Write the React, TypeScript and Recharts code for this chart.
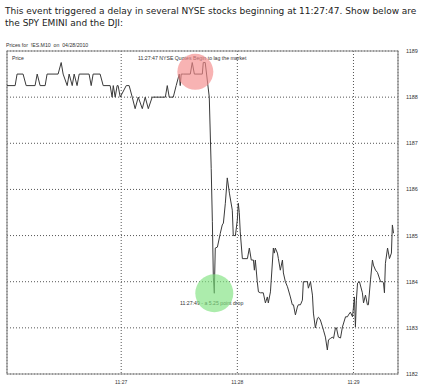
import { LineChart, Line, XAxis, YAxis, CartesianGrid, ReferenceArea, ReferenceDot } from 'recharts';

// seconds after 11:26:00
const times = [
  1.0, 5.2, 6.2, 9.3, 10.9, 15.5, 16.6, 18.1, 20.7, 21.7, 27.4, 29.0, 30.0, 32.1, 33.1, 34.7, 35.7, 37.2, 38.3,
  43.4, 44.5, 45.5, 49.1, 50.7, 54.3, 55.3, 55.9, 56.9, 57.9, 58.4, 59.5, 62.6, 64.1, 65.7, 67.2, 68.8, 70.9,
  72.4, 74.0, 76.0, 82.8, 83.8, 84.8, 86.9, 88.4, 90.0, 90.5, 91.0, 92.1, 95.7, 96.7, 97.8, 101.9, 102.4, 103.4,
  105.5, 106.5, 107.1, 107.6, 108.1, 108.6, 109.7, 111.2, 112.2, 112.8, 113.8, 114.8, 115.9, 117.4, 117.9,
  119.0, 120.0, 120.5, 121.0, 121.5, 122.6, 125.2, 126.2, 127.2, 128.3, 128.8, 129.3, 130.3, 130.9, 131.9,
  133.4, 134.5, 135.5, 136.0, 137.1, 138.6, 139.1, 139.6, 140.7, 141.2, 142.2, 143.3, 143.8, 144.8, 145.9,
  147.4, 148.4, 149.0, 150.0, 151.0, 151.5, 152.6, 153.6, 154.1, 156.2, 156.7, 157.8, 158.8, 159.3, 160.3,
  161.4, 161.9, 162.9, 164.0, 164.5, 165.5, 166.5, 167.1, 168.1, 169.1, 169.7, 170.7, 171.2, 172.2, 173.3,
  174.3, 175.9, 176.9, 177.4, 178.4, 179.5, 180.0, 180.5, 181.0, 181.5, 182.1, 183.1, 184.6, 185.2, 186.2,
  187.2, 187.7, 188.8, 189.8, 190.3, 191.4, 192.4, 194.0, 195.0, 195.5, 196.0, 196.5, 197.6, 198.6, 199.6,
  200.1, 200.7,
];

const prices = [
  1188.25, 1188.25, 1188.5, 1188.5, 1188.25, 1188.25, 1188.5, 1188.25, 1188.25, 1188.5, 1188.5, 1188.75, 1188.5,
  1188.25, 1188.5, 1188.25, 1188.5, 1188.25, 1188.5, 1188.5, 1188.25, 1188.5, 1188.5, 1188.25, 1188.25, 1188,
  1188.25, 1188, 1188.25, 1188.25, 1188, 1188.25, 1188.25, 1188, 1187.75, 1188, 1187.75, 1188, 1187.75, 1188,
  1188, 1188.25, 1188, 1188, 1188.25, 1188.5, 1188.25, 1188.5, 1188.5, 1188.5, 1188.75, 1188.5, 1188.5,
  1188.75, 1188.75, 1188, 1186.45, 1185.3, 1184.1, 1183.75, 1184.73, 1184.75, 1185.05, 1185.23, 1185.27,
  1185.7, 1186.25, 1185.92, 1185.55, 1185.0, 1185.0, 1185.34, 1185.7, 1185.5, 1185.08, 1184.5, 1184.5,
  1184.73, 1184.47, 1184.47, 1184.25, 1184.47, 1184.0, 1183.78, 1183.76, 1183.76, 1183.54, 1183.67, 1183.54,
  1183.78, 1184.73, 1184.62, 1184.73, 1184.62, 1184.5, 1184.25, 1184.47, 1184.19, 1184.0, 1183.89, 1183.67,
  1183.5, 1183.5, 1183.28, 1183.45, 1183.5, 1183.5, 1183.6, 1184.0, 1184.0, 1183.86, 1184.0, 1183.71,
  1183.32, 1183.0, 1183.21, 1183.23, 1183.17, 1183.02, 1182.95, 1182.8, 1182.52, 1182.74, 1182.77, 1182.8,
  1182.77, 1183.0, 1183.0, 1182.8, 1182.78, 1183.02, 1183.24, 1183.24, 1183.28, 1183.34, 1183.24, 1183.45,
  1183.67, 1183.02, 1183.6, 1183.97, 1184.0, 1183.76, 1183.54, 1183.71, 1183.5, 1183.5, 1184.04, 1184.47,
  1184.36, 1184.25, 1184.2, 1184.0, 1184.0, 1183.98, 1183.76, 1184.4, 1184.73, 1184.5, 1184.62, 1185.23,
  1185.05, 1184.75,
];

const yTicks = [1182, 1183, 1184, 1185, 1186, 1187, 1188, 1189];
const xTicks = [60, 120, 180];
const xTickLabels = ['11:27', '11:28', '11:29'];

const data = times.map((t, i) => ({ t, p: prices[i] }));

const small = { fontFamily: 'Arial, "Liberation Sans", sans-serif', fontSize: 5.2, color: '#333', position: 'absolute' as const, whiteSpace: 'nowrap' as const };

export default function App() {
  return (
    <div style={{ position: 'absolute', left: 0, top: 0, width: 446, height: 384, background: '#fff', overflow: 'hidden' }}>
      <div style={{ position: 'absolute', left: 5, top: 5, fontFamily: '"DejaVu Sans", Verdana, sans-serif', fontSize: 9, lineHeight: '12px', color: '#222', whiteSpace: 'nowrap' }}>
        This event triggered a delay in several NYSE stocks beginning at 11:27:47. Show below are<br />
        the SPY EMINI and the DJI:
      </div>
      <div style={{ ...small, left: 6, top: 42 }}>Prices for&nbsp; !ES.M10 &nbsp;on &nbsp;04/28/2010</div>
      <div style={{ ...small, left: 12, top: 55 }}>Price</div>
      <div style={{ ...small, left: 138, top: 55 }}>11:27:47 NYSE Quotes Begin to lag the market</div>
      <div style={{ ...small, left: 180, top: 300 }}>11:27:49 - a 5.25 point drop</div>
      <div style={{ position: 'absolute', left: 0, top: 0 }}>
        <LineChart width={446} height={384} data={data} margin={{ top: 51, left: 7, right: 8, bottom: 0 }}>
          <CartesianGrid stroke="#555" strokeDasharray="1 2" />
          <XAxis
            dataKey="t"
            type="number"
            domain={[1, 203]}
            ticks={xTicks}
            tickFormatter={(v) => xTickLabels[xTicks.indexOf(v)]}
            axisLine={false}
            tickLine={false}
            height={10}
            tick={{ fontSize: 5, fill: '#333', fontFamily: 'Arial' }}
            tickMargin={0}
            allowDataOverflow
          />
          <YAxis
            orientation="right"
            domain={[1182, 1189]}
            ticks={yTicks}
            axisLine={false}
            tickLine={false}
            width={40}
            tick={{ fontSize: 5.5, fill: '#333', fontFamily: 'Arial' }}
            allowDataOverflow
          />
          <ReferenceArea x1={1} x2={203} y1={1182} y2={1189} fill="none" stroke="#8a8a8a" strokeWidth={1.2} />
          <ReferenceDot x={98.3} y={1188.55} r={18} fill="#f58a8a" fillOpacity={0.65} stroke="none" />
          <ReferenceDot x={108.1} y={1183.75} r={19} fill="#7fe27f" fillOpacity={0.65} stroke="none" />
          <Line type="linear" dataKey="p" stroke="#3a3a3a" strokeWidth={1} dot={false} isAnimationActive={false} />
        </LineChart>
      </div>
    </div>
  );
}
